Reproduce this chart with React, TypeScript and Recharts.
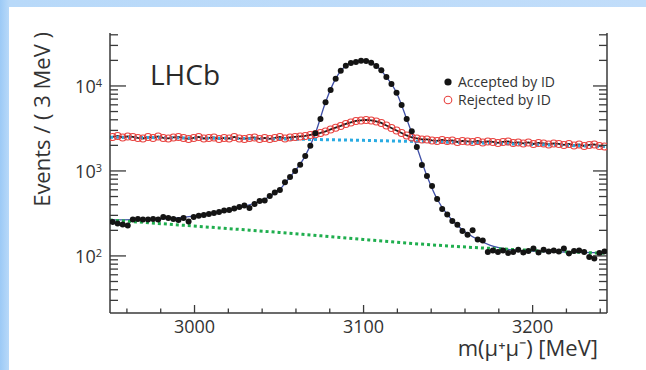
import { LineChart, Line, XAxis, YAxis, Legend } from "recharts";

// bins of 3 MeV starting at 2950 MeV
const BIN_LO = 2950;
const BIN_W = 3;

const accepted = [
  251, 241, 235, 228, 269, 272, 269, 269, 272, 269,
  288, 280, 272, 265, 280, 255, 288, 296, 304, 312,
  320, 329, 343, 348, 362, 377, 393, 367, 409, 444,
  450, 508, 558, 598, 736, 850, 1000, 1186, 1502, 1985,
  2777, 4091, 6430, 8970, 12185, 15140, 17330, 18650, 19160, 19850,
  19680, 18795, 17190, 15300, 12760, 10560, 8340, 5977, 4091, 2931,
  1915, 1177, 873, 666, 468, 357, 308, 258, 232, 197,
  177, 200, 156, 152, 111, 116, 111, 116, 108, 111,
  118, 110, 114, 122, 110, 118, 113, 116, 113, 122,
  107, 114, 116, 111, 97, 93, 108, 113,
];

const rejected = [
  2512, 2581, 2478, 2545, 2512, 2445, 2411, 2512, 2445, 2545,
  2445, 2411, 2478, 2512, 2445, 2380, 2445, 2512, 2411, 2445,
  2478, 2380, 2445, 2411, 2512, 2411, 2380, 2445, 2478, 2380,
  2445, 2380, 2445, 2512, 2411, 2478, 2512, 2545, 2581, 2652,
  2703, 2799, 2915, 3077, 3229, 3384, 3572, 3721, 3873, 3927,
  3981, 3927, 3821, 3671, 3430, 3206, 2994, 2799, 2616, 2478,
  2411, 2348, 2348, 2285, 2254, 2316, 2254, 2285, 2193, 2254,
  2224, 2193, 2254, 2164, 2224, 2193, 2135, 2193, 2224, 2135,
  2164, 2106, 2164, 2078, 2135, 2106, 2050, 2106, 2078, 2023,
  2078, 1995, 2050, 1968, 2023, 2050, 1968, 1942,
];

// total fit to the accepted sample
const fitMass = [
  2950, 2970, 2990, 3010, 3025, 3035, 3045, 3050.5, 3056.5, 3059.5,
  3065.5, 3071.5, 3077.5, 3083.5, 3089.5, 3095.5, 3098.5, 3101.5, 3107.5, 3113.5,
  3119.5, 3125.5, 3131.5, 3137.5, 3143.5, 3149.5, 3155.5, 3161.5, 3167.5, 3175,
  3185, 3200, 3220, 3244,
];
const fitValue = [
  265, 269, 281, 316, 367, 414, 508, 606, 850, 1000,
  1502, 2777, 6430, 12185, 17330, 19160, 19850, 19680, 17190, 12760,
  8340, 4091, 1915, 873, 468, 308, 228, 184, 156, 133,
  120, 114, 111, 108.5,
];

// background components
const bkgAccMass = [2950, 3050, 3150, 3244];
const bkgAccValue = [265, 189, 131, 107];
const bkgRejMass = [2950, 3100, 3244];
const bkgRejValue = [2492, 2290, 1932];

const X_TICKS = [2960, 2980, 3000, 3020, 3040, 3060, 3080, 3100, 3120, 3140, 3160, 3180, 3200, 3220, 3240];
const X_MAJOR = [3000, 3100, 3200];
const Y_TICKS = [
  30, 40, 50, 60, 70, 80, 90,
  100, 200, 300, 400, 500, 600, 700, 800, 900,
  1000, 2000, 3000, 4000, 5000, 6000, 7000, 8000, 9000,
  10000, 20000, 30000, 40000,
];
const Y_MAJOR = [100, 1000, 10000];

const LEGEND = [
  { label: "Accepted by ID", open: false },
  { label: "Rejected by ID", open: true },
];

const FONT = "'Open Sans', sans-serif";
const TEXT = "#333333";
const FRAME = "#3a3a3a";
const DOT = "#141414";
const FIT = "#3f4fa6";
const RED = "#e8423f";
const CYAN = "#29abe2";
const GREEN = "#1fae4e";

const binMass = (i: number) => BIN_LO + BIN_W * (i + 0.5);
const accData = accepted.map((v, i) => ({ m: binMass(i), v }));
const rejData = rejected.map((v, i) => ({ m: binMass(i), v }));
const fitData = fitMass.map((m, i) => ({ m, v: fitValue[i] }));
const bkgAccData = bkgAccMass.map((m, i) => ({ m, v: bkgAccValue[i] }));
const bkgRejData = bkgRejMass.map((m, i) => ({ m, v: bkgRejValue[i] }));

function BottomTick({ x, y, payload }: any) {
  const major = X_MAJOR.includes(payload.value);
  return (
    <g>
      <line x1={x} x2={x} y1={y} y2={y - (major ? 8 : 4.5)} stroke={FRAME} strokeWidth={1.3} />
      {major && (
        <text x={x} y={y + 20} textAnchor="middle" fontSize={18} fill={TEXT} fontFamily={FONT}>
          {payload.value}
        </text>
      )}
    </g>
  );
}

function TopTick({ x, y, payload }: any) {
  const major = X_MAJOR.includes(payload.value);
  return <line x1={x} x2={x} y1={y} y2={y + (major ? 7 : 4)} stroke={FRAME} strokeWidth={1.3} />;
}

function LeftTick({ x, y, payload }: any) {
  const v = payload.value;
  const major = Y_MAJOR.includes(v);
  return (
    <g>
      <line x1={x} x2={x + (major ? 16 : 8)} y1={y} y2={y} stroke={FRAME} strokeWidth={1.3} />
      {major && (
        <text x={x - 8} y={y + 7} textAnchor="end" fontSize={18} fill={TEXT} fontFamily={FONT}>
          10
          <tspan dy={-6} fontSize={11}>
            {Math.round(Math.log10(v))}
          </tspan>
        </text>
      )}
    </g>
  );
}

function RightTick({ x, y, payload }: any) {
  const major = Y_MAJOR.includes(payload.value);
  return <line x1={x} x2={x - (major ? 14 : 8)} y1={y} y2={y} stroke={FRAME} strokeWidth={1.3} />;
}

function YTitle({ viewBox }: any) {
  const x = viewBox.x + 50;
  const y = viewBox.y - 1;
  return (
    <text x={x} y={y} transform={`rotate(-90, ${x}, ${y})`} textAnchor="end" fontSize={22} fill={TEXT} fontFamily={FONT}>
      Events / ( 3 MeV )
    </text>
  );
}

function XTitle({ viewBox }: any) {
  const x = viewBox.x + viewBox.width - 9;
  const y = viewBox.y + 43;
  return (
    <g>
      <text x={x} y={y} textAnchor="end" fontSize={22} fill={TEXT} fontFamily={FONT}>
        m(μ⁺μ⁻) [MeV]
      </text>
      <text x={viewBox.x + 40} y={viewBox.y - 228} fontSize={28} fill="#2a2a2a" fontFamily={FONT}>
        LHCb
      </text>
    </g>
  );
}

function LegendBox() {
  return (
    <svg width={170} height={44}>
      {LEGEND.map((e, i) => (
        <g key={e.label}>
          <circle
            cx={8}
            cy={12 + i * 18}
            r={e.open ? 3.8 : 3.6}
            fill={e.open ? "none" : DOT}
            stroke={e.open ? RED : "none"}
            strokeWidth={1.1}
          />
          <text x={18} y={16.5 + i * 18} fontSize={14} fill={TEXT} fontFamily={FONT}>
            {e.label}
          </text>
        </g>
      ))}
    </svg>
  );
}

export default function App() {
  return (
    <div
      style={{
        position: "absolute",
        left: 0,
        top: 0,
        width: 646,
        height: 370,
        background: "linear-gradient(90deg, #9ccaf6 0px, #b8d9f9 9px, #c1ddfa 100%)",
      }}
    >
      <div style={{ position: "absolute", left: 9, top: 7, right: 0, bottom: 0, background: "#ffffff" }} />
      <div style={{ position: "absolute", left: 0, top: 0 }}>
        <LineChart width={646} height={370} margin={{ top: 33, right: 38, left: 0, bottom: 0 }}>
          <XAxis
            dataKey="m"
            type="number"
            domain={[2950, 3244]}
            allowDataOverflow
            ticks={X_TICKS}
            interval={0}
            height={57}
            tickSize={0}
            tickMargin={0}
            tick={<BottomTick />}
            axisLine={{ stroke: FRAME, strokeWidth: 1.5 }}
            label={(p: any) => <XTitle {...p} />}
          />
          <XAxis
            xAxisId="top"
            orientation="top"
            dataKey="m"
            type="number"
            domain={[2950, 3244]}
            allowDataOverflow
            ticks={X_TICKS}
            interval={0}
            height={0}
            tickSize={0}
            tickMargin={0}
            tick={<TopTick />}
            axisLine={{ stroke: FRAME, strokeWidth: 1.5 }}
          />
          <YAxis
            type="number"
            scale="log"
            domain={[21.3, 42000]}
            allowDataOverflow
            ticks={Y_TICKS}
            interval={0}
            width={110}
            tickSize={0}
            tickMargin={0}
            tick={<LeftTick />}
            axisLine={{ stroke: FRAME, strokeWidth: 1.5 }}
            label={(p: any) => <YTitle {...p} />}
          />
          <YAxis
            yAxisId="right"
            orientation="right"
            type="number"
            scale="log"
            domain={[21.3, 42000]}
            allowDataOverflow
            ticks={Y_TICKS}
            interval={0}
            width={1}
            tickSize={0}
            tickMargin={0}
            tick={<RightTick />}
            axisLine={{ stroke: FRAME, strokeWidth: 1.5 }}
          />
          <Legend
            content={() => <LegendBox />}
            layout="vertical"
            align="center"
            verticalAlign="middle"
            wrapperStyle={{ left: 440, top: 70, width: 170 }}
          />
          <Line
            data={rejData}
            dataKey="v"
            name="Rejected by ID"
            stroke="#1a1a1a"
            strokeWidth={1.8}
            dot={{ r: 3.5, fill: "none", stroke: RED, strokeWidth: 1.1 }}
            isAnimationActive={false}
          />
          <Line
            data={accData}
            dataKey="v"
            name="Accepted by ID"
            stroke="none"
            dot={{ r: 3, fill: DOT, stroke: "none" }}
            isAnimationActive={false}
          />
          <Line
            data={fitData}
            dataKey="v"
            type="monotone"
            stroke={FIT}
            strokeWidth={1.3}
            dot={false}
            isAnimationActive={false}
          />
          <Line
            data={bkgRejData}
            dataKey="v"
            type="monotone"
            stroke={CYAN}
            strokeWidth={3}
            strokeDasharray="3 3"
            dot={false}
            isAnimationActive={false}
          />
          <Line
            data={bkgAccData}
            dataKey="v"
            type="monotone"
            stroke={GREEN}
            strokeWidth={3}
            strokeDasharray="3 3"
            dot={false}
            isAnimationActive={false}
          />
        </LineChart>
      </div>
    </div>
  );
}
